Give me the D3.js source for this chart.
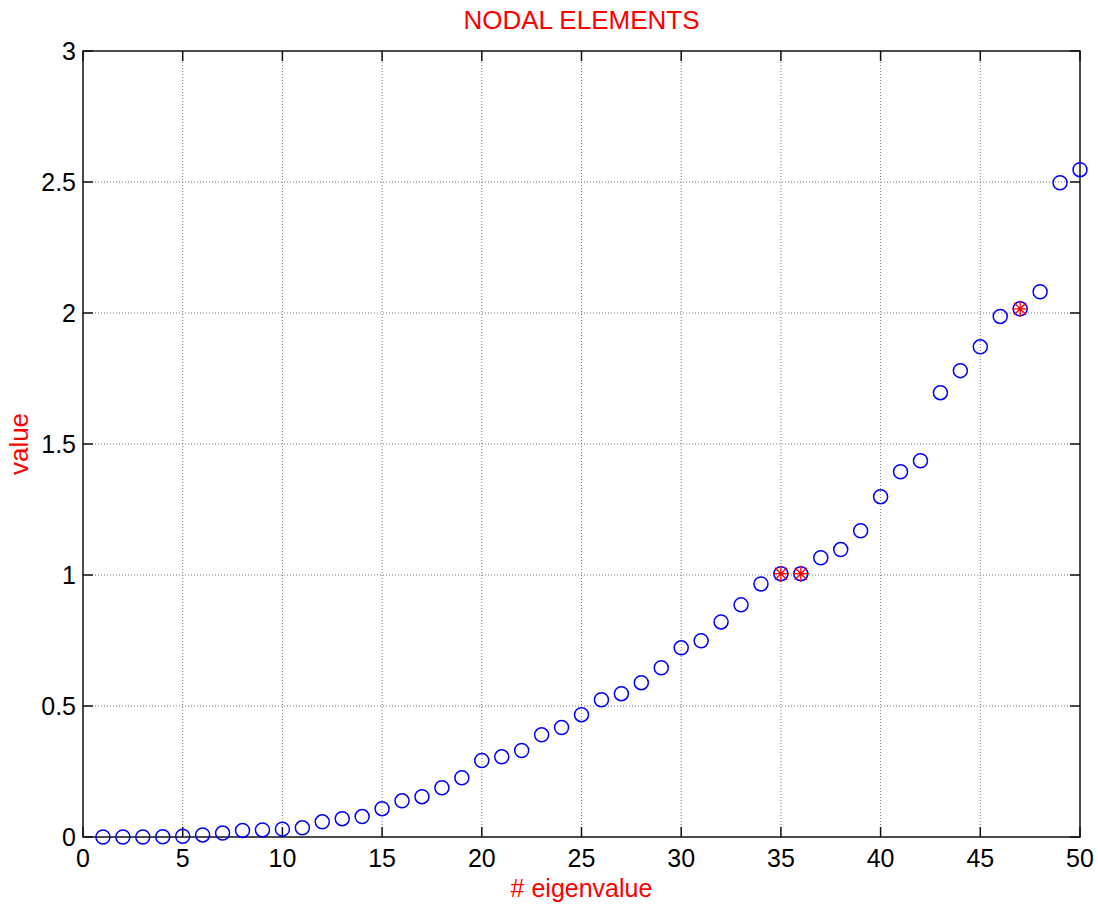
<!DOCTYPE html>
<html>
<head>
<meta charset="utf-8">
<script src="https://cdn.jsdelivr.net/npm/d3@7"></script>
<style>
  body { margin: 0; background: #fff; }
  text { font-family: "Liberation Sans", Arial, sans-serif; }
</style>
</head>
<body>
<svg id="chart"></svg>
<script>
  const width = 1098;
  const height = 905;

  // eigenvalue index and values
  const eigIndex = d3.range(1, 51);
  const eigValues = [
    0.000, 0.000, 0.000, 0.001, 0.003, 0.008, 0.015, 0.025, 0.027, 0.030,
    0.035, 0.058, 0.070, 0.078, 0.108, 0.138, 0.154, 0.188, 0.226, 0.292,
    0.306, 0.330, 0.390, 0.418, 0.467, 0.524, 0.547, 0.589, 0.646, 0.722,
    0.749, 0.821, 0.886, 0.966, 1.005, 1.005, 1.066, 1.097, 1.169, 1.299,
    1.394, 1.436, 1.696, 1.780, 1.871, 1.987, 2.016, 2.081, 2.497, 2.547
  ];
  // highlighted eigenvalues (red asterisks)
  const markedIndex = [35, 36, 47];

  const xTicks = [0, 5, 10, 15, 20, 25, 30, 35, 40, 45, 50];
  const yTicks = [0, 0.5, 1, 1.5, 2, 2.5, 3];
  const yTickLabels = ["0", "0.5", "1", "1.5", "2", "2.5", "3"];

  const margin = { left: 83, right: 18, top: 51, bottom: 68 };

  const svg = d3.select("#chart")
    .attr("width", width)
    .attr("height", height);

  const x = d3.scaleLinear().domain([0, 50]).range([margin.left, width - margin.right]);
  const y = d3.scaleLinear().domain([0, 3]).range([height - margin.bottom, margin.top]);

  const x0 = x.range()[0], x1 = x.range()[1];
  const y0 = y.range()[0], y1 = y.range()[1];

  // grid
  const grid = svg.append("g").attr("class", "grid");
  grid.selectAll("line.gx")
    .data(xTicks.slice(1, -1))
    .enter().append("line")
    .attr("x1", d => x(d)).attr("x2", d => x(d))
    .attr("y1", y0).attr("y2", y1);
  grid.selectAll("line.gy")
    .data(yTicks.slice(1, -1))
    .enter().append("line")
    .attr("y1", d => y(d)).attr("y2", d => y(d))
    .attr("x1", x0).attr("x2", x1);
  grid.selectAll("line")
    .attr("stroke", "#777")
    .attr("stroke-width", 1)
    .attr("stroke-dasharray", "1,2");

  // axes with inward ticks on all four sides
  const tickLen = 10;
  const axes = svg.append("g").attr("class", "axes")
    .attr("stroke", "#111").attr("stroke-width", 1.5);

  xTicks.forEach(t => {
    axes.append("line").attr("x1", x(t)).attr("x2", x(t)).attr("y1", y0).attr("y2", y0 - tickLen);
    axes.append("line").attr("x1", x(t)).attr("x2", x(t)).attr("y1", y1).attr("y2", y1 + tickLen);
  });
  yTicks.forEach(t => {
    axes.append("line").attr("y1", y(t)).attr("y2", y(t)).attr("x1", x0).attr("x2", x0 + tickLen);
    axes.append("line").attr("y1", y(t)).attr("y2", y(t)).attr("x1", x1).attr("x2", x1 - tickLen);
  });
  axes.append("rect")
    .attr("x", x0).attr("y", y1)
    .attr("width", x1 - x0).attr("height", y0 - y1)
    .attr("fill", "none");

  // tick labels
  svg.append("g").selectAll("text")
    .data(xTicks)
    .enter().append("text")
    .attr("x", d => x(d))
    .attr("y", y0 + 30)
    .attr("text-anchor", "middle")
    .attr("font-size", 25)
    .attr("fill", "#000")
    .text(d => d);

  svg.append("g").selectAll("text")
    .data(yTicks)
    .enter().append("text")
    .attr("x", x0 - 7)
    .attr("y", d => y(d))
    .attr("dy", "0.36em")
    .attr("text-anchor", "end")
    .attr("font-size", 25)
    .attr("fill", "#000")
    .text((d, i) => yTickLabels[i]);

  // data circles
  svg.append("g").selectAll("circle")
    .data(eigIndex)
    .enter().append("circle")
    .attr("cx", d => x(d))
    .attr("cy", (d, i) => y(eigValues[i]))
    .attr("r", 7)
    .attr("fill", "none")
    .attr("stroke", "#0000ff")
    .attr("stroke-width", 1.5);

  // red asterisks
  const s = 8, sd = 6;
  const star = `M${-s},0L${s},0M0,${-s}L0,${s}M${-sd},${-sd}L${sd},${sd}M${-sd},${sd}L${sd},${-sd}`;
  svg.append("g").selectAll("path")
    .data(markedIndex)
    .enter().append("path")
    .attr("transform", d => `translate(${x(d)},${y(eigValues[d - 1])})`)
    .attr("d", star)
    .attr("fill", "none")
    .attr("stroke", "#ff0000")
    .attr("stroke-width", 1.3);

  // titles
  svg.append("text")
    .attr("x", (x0 + x1) / 2)
    .attr("y", 29)
    .attr("text-anchor", "middle")
    .attr("font-size", 26)
    .attr("fill", "#ff0000")
    .text("NODAL ELEMENTS");

  svg.append("text")
    .attr("x", (x0 + x1) / 2)
    .attr("y", 897)
    .attr("text-anchor", "middle")
    .attr("font-size", 25)
    .attr("fill", "#ff0000")
    .text("# eigenvalue");

  svg.append("text")
    .attr("transform", `translate(28,${(y0 + y1) / 2}) rotate(-90)`)
    .attr("text-anchor", "middle")
    .attr("font-size", 26)
    .attr("fill", "#ff0000")
    .text("value");
</script>
</body>
</html>
